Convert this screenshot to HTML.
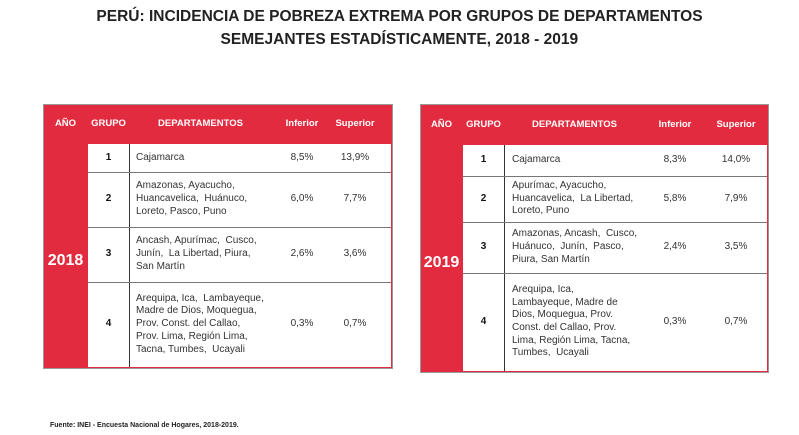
<!DOCTYPE html>
<html><head><meta charset="utf-8">
<style>
body{margin:0;width:799px;height:435px;background:#fff;position:relative;overflow:hidden;font-family:"Liberation Sans",sans-serif;}
.title{position:absolute;left:0;width:799px;text-align:center;font-weight:bold;font-size:16px;color:#222;}
.title span{display:inline-block;transform:scaleX(0.97);white-space:nowrap;}
.tbl{position:absolute;background:#e32b3f;border:1px solid #999;}
.abs{position:absolute;}
.hd{position:absolute;color:#fff;font-weight:bold;font-size:9.5px;text-align:center;}
.cell{position:absolute;background:#fff;}
.txt{position:absolute;font-size:10px;line-height:12.7px;color:#333;display:flex;align-items:center;}
.num{justify-content:center;}
.yr{position:absolute;color:#fff;font-weight:bold;font-size:16px;text-align:center;}
</style></head><body>
<div class="title" style="top:8px"><span>PERÚ: INCIDENCIA DE POBREZA EXTREMA POR GRUPOS DE DEPARTAMENTOS</span></div>
<div class="title" style="top:31px"><span>SEMEJANTES ESTADÍSTICAMENTE, 2018 - 2019</span></div>
<div id="t1"></div><div id="t2"></div>
<div class="abs" style="left:50px;top:422px;font-size:7px;font-weight:bold;color:#222">Fuente: INEI - Encuesta Nacional de Hogares, 2018-2019.</div>
<script>
const years=["2018","2019"];
const groups=["1","2","3","4"];
const depts2018=["Cajamarca","Amazonas, Ayacucho,<br>Huancavelica, &nbsp;Huánuco,<br>Loreto, Pasco, Puno","Ancash, Apurímac, &nbsp;Cusco,<br>Junín, &nbsp;La Libertad, Piura,<br>San Martín","Arequipa, Ica, &nbsp;Lambayeque,<br>Madre de Dios, Moquegua,<br>Prov. Const. del Callao,<br>Prov. Lima, Región Lima,<br>Tacna, Tumbes, &nbsp;Ucayali"];
const inf2018=["8,5%","6,0%","2,6%","0,3%"];
const sup2018=["13,9%","7,7%","3,6%","0,7%"];
const depts2019=["Cajamarca","Apurímac, Ayacucho,<br>Huancavelica, &nbsp;La Libertad,<br>Loreto, Puno","Amazonas, Ancash, &nbsp;Cusco,<br>Huánuco, &nbsp;Junín, &nbsp;Pasco,<br>Piura, San Martín","Arequipa, Ica,<br>Lambayeque, Madre de<br>Dios, Moquegua, Prov.<br>Const. del Callao, Prov.<br>Lima, Región Lima, Tacna,<br>Tumbes, &nbsp;Ucayali"];
const inf2019=["8,3%","5,8%","2,4%","0,3%"];
const sup2019=["14,0%","7,9%","3,5%","0,7%"];
const geo=[
 {id:"t1",L:43,T:104,R:391,B:367,H:144,c1:88,c2:129,rows:[144,172,227,282,367],inf:302,sup:355,dx:136},
 {id:"t2",L:420,T:104,R:767,B:371,H:145,c1:463,c2:504,rows:[145,176,222,273,371],inf:675,sup:736,dx:512}];
const data=[[depts2018,inf2018,sup2018],[depts2019,inf2019,sup2019]];
geo.forEach((g,ti)=>{
 const root=document.getElementById(g.id);
 const t=document.createElement('div');t.className='tbl';
 
 
 t.style.cssText=`left:${g.L}px;top:${g.T}px;width:${g.R-g.L}px;height:${g.B-g.T}px`;
 root.appendChild(t);
 const hy=(g.T+g.H)/2-6;
 const heads=[["AÑO",g.L,g.c1],["GRUPO",g.c1-4,g.c2+4],["DEPARTAMENTOS",g.c2,g.inf-30],["Inferior",g.inf-25,g.inf+25],["Superior",g.sup-30,g.sup+30]];
 heads.forEach(h=>{const d=document.createElement('div');d.className='hd';
  
  
  d.style.cssText=`left:${h[1]}px;width:${h[2]-h[1]}px;top:${hy}px`;d.textContent=h[0];root.appendChild(d);});
 const y=document.createElement('div');y.className='yr';
 
 
 y.style.cssText=`left:${g.L}px;width:${g.c1-g.L}px;top:${(g.H+g.B)/2-4}px`;y.textContent=years[ti];root.appendChild(y);
 const w=document.createElement('div');w.className='cell';
 
 
 w.style.cssText=`left:${g.c1}px;top:${g.H}px;width:${g.R-g.c1}px;height:${g.B-g.H}px`;root.appendChild(w);
 const v=document.createElement('div');v.className='abs';
 
 
 v.style.cssText=`left:${g.c2}px;top:${g.H}px;width:1px;height:${g.B-g.H}px;background:#333`;root.appendChild(v);
 const [dep,inf,sup]=data[ti];
 groups.forEach((gr,i)=>{
  const y0=g.rows[i],y1=g.rows[i+1];
  if(i>0){const l=document.createElement('div');l.className='abs';
   
   
   l.style.cssText=`left:${g.c1}px;top:${y0}px;width:${g.R-g.c1}px;height:1px;background:#777`;root.appendChild(l);}
  const cells=[[gr,g.c1,g.c2,'num','group-number',true],[dep[i],g.dx,g.inf-30,'','departments',false],[inf[i],g.inf-25,g.inf+25,'num','inferior-value',false],[sup[i],g.sup-30,g.sup+30,'num','superior-value',false]];
  cells.forEach(c=>{const d=document.createElement('div');d.className='txt '+c[3];
   
   
   d.style.cssText=`left:${c[1]}px;width:${c[2]-c[1]}px;top:${y0}px;height:${y1-y0}px;`+(c[5]?'font-weight:bold;color:#111;':'');
   d.innerHTML='<div>'+c[0]+'</div>';root.appendChild(d);});
 });
});
</script>
</body></html>
